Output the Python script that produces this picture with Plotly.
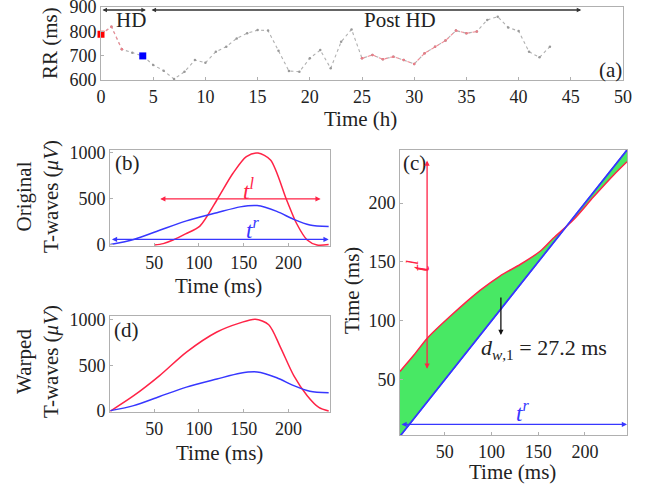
import plotly.graph_objects as go

# ---------------- data ----------------
# Panel (a): RR interval over time
rr_time_h = list(range(0, 44))
rr_ms = [788, 819, 726, 712, 699, 662, 638, 604, 634, 682, 671, 716, 737, 771, 792,
         805, 803, 720, 637, 634, 689, 723, 648, 757, 808, 689, 703, 685, 696, 682,
         666, 710, 737, 762, 803, 792, 799, 847, 860, 816, 801, 716, 693, 737]
red_segments = [(0, 2), (25, 36)]   # index ranges drawn in red
hd_marker_idx = 0                    # red square
post_marker_idx = 4                  # blue square
hd_span = [0, 4.3]
post_hd_span = [4.7, 46]

# Panel (b): original T-waves
tl_orig_t = [50, 60, 71, 85, 101, 120, 138, 153, 166, 180, 198, 209, 221, 232, 245]
tl_orig_v = [0, 15, 54, 120, 205, 489, 779, 960, 1000, 924, 489, 236, 54, 0, 5]
tr_t = [1, 27, 56, 86, 120, 146, 165, 187, 206, 224, 245]
tr_v = [5, 60, 160, 262, 350, 414, 428, 365, 278, 217, 200]
tl_interval = [55, 236]
tr_interval = [1, 245]

# Panel (d): warped T-waves
tl_warp_t = [1, 27, 56, 86, 120, 146, 163, 178, 191, 206, 221, 234, 245]
tl_warp_v = [0, 168, 388, 645, 865, 965, 1005, 945, 700, 388, 168, 40, 0]

# Panel (c): warping path
path_x = [2, 16, 31, 56, 88, 109, 131, 152, 166, 188, 209, 231, 245]
path_y = [57, 70, 85, 104, 126, 138, 148, 159, 170, 186, 205, 224, 235]
diag = [2, 245]
dw_label = "<i>d</i><sub><i>w</i>,1</sub> = 27.2 ms"

# ---------------- style ----------------
W, H = 654, 488
FONT = "Liberation Serif, Times New Roman, serif"
RED = "rgb(255,35,70)"
BLUE = "rgb(55,55,255)"
GREEN = "rgb(72,232,100)"
AX = "#b0b0b0"


def px(x):
    return x / W


def py(y):
    return 1 - y / H


fig = go.Figure()

# Panel (a)
fig.add_trace(go.Scatter(x=rr_time_h, y=rr_ms, mode="lines+markers",
                         line=dict(color="#b0b0b0", width=1.1, dash="dot"),
                         marker=dict(size=2.5, color="#999999"),
                         xaxis="x", yaxis="y", showlegend=False))
for a, b in red_segments:
    fig.add_trace(go.Scatter(x=rr_time_h[a:b + 1], y=rr_ms[a:b + 1], mode="lines+markers",
                             line=dict(color="rgb(242,140,150)", width=1.1, dash="dot"),
                             marker=dict(size=2.5, color="rgb(235,125,135)"),
                             xaxis="x", yaxis="y", showlegend=False))
fig.add_trace(go.Scatter(x=[rr_time_h[hd_marker_idx]], y=[rr_ms[hd_marker_idx]], mode="markers",
                         marker=dict(symbol="square", size=7, color="red"), cliponaxis=False,
                         xaxis="x", yaxis="y", showlegend=False))
fig.add_trace(go.Scatter(x=[rr_time_h[post_marker_idx]], y=[rr_ms[post_marker_idx]], mode="markers",
                         marker=dict(symbol="square", size=7, color="blue"), cliponaxis=False,
                         xaxis="x", yaxis="y", showlegend=False))

SPL = dict(width=1.5, shape="spline", smoothing=0.8)

# Panel (b)
fig.add_trace(go.Scatter(x=tl_orig_t, y=tl_orig_v, mode="lines", line=dict(color=RED, **SPL),
                         xaxis="x2", yaxis="y2", showlegend=False))
fig.add_trace(go.Scatter(x=tr_t, y=tr_v, mode="lines", line=dict(color=BLUE, **SPL),
                         xaxis="x2", yaxis="y2", showlegend=False))

# Panel (d)
fig.add_trace(go.Scatter(x=tl_warp_t, y=tl_warp_v, mode="lines", line=dict(color=RED, **SPL),
                         xaxis="x4", yaxis="y4", showlegend=False))
fig.add_trace(go.Scatter(x=tr_t, y=tr_v, mode="lines", line=dict(color=BLUE, **SPL),
                         xaxis="x4", yaxis="y4", showlegend=False))

# Panel (c)
fig.add_trace(go.Scatter(x=diag, y=diag, mode="lines", line=dict(color=BLUE, width=1.5),
                         xaxis="x3", yaxis="y3", showlegend=False))
fig.add_trace(go.Scatter(x=path_x, y=path_y, mode="lines", fill="tonexty", fillcolor=GREEN,
                         line=dict(color=RED, **SPL),
                         xaxis="x3", yaxis="y3", showlegend=False))
fig.add_trace(go.Scatter(x=diag, y=diag, mode="lines", line=dict(color=BLUE, width=1.5),
                         xaxis="x3", yaxis="y3", showlegend=False))

axis_common = dict(showline=True, mirror=True, linecolor=AX, linewidth=1, showgrid=False,
                   zeroline=False, ticks="inside", ticklen=3, tickcolor=AX, automargin=False,
                   ticklabeloverflow="allow",
                   tickfont=dict(family=FONT, size=18, color="#222"))

fig.update_layout(
    width=W, height=H, margin=dict(l=0, r=0, t=0, b=0, autoexpand=False),
    paper_bgcolor="white", plot_bgcolor="white",
    xaxis=dict(domain=[px(101), px(623)], range=[0, 50], tickvals=list(range(0, 51, 5)), anchor="y", **axis_common),
    yaxis=dict(domain=[py(80), py(7)], range=[600, 900], tickvals=[600, 700, 800, 900], anchor="x", **axis_common),
    xaxis2=dict(domain=[px(110), px(330)], range=[0.5, 246.5], tickvals=[50, 100, 150, 200], anchor="y2", **axis_common),
    yaxis2=dict(domain=[py(246), py(150)], range=[-11, 1032], tickvals=[0, 500, 1000], anchor="x2", **axis_common),
    xaxis3=dict(domain=[px(400), px(627)], range=[2, 245], tickvals=[50, 100, 150, 200], anchor="y3", **axis_common),
    yaxis3=dict(domain=[py(435), py(150)], range=[3, 245], tickvals=[50, 100, 150, 200], anchor="x3", **axis_common),
    xaxis4=dict(domain=[px(110), px(330)], range=[0.5, 246.5], tickvals=[50, 100, 150, 200], anchor="y4", **axis_common),
    yaxis4=dict(domain=[py(412), py(316)], range=[-10, 1040], tickvals=[0, 500, 1000], anchor="x4", **axis_common),
)

TF = dict(family=FONT, size=21, color="#222")
anns = []


def text(xp, yp, s, angle=0, font=None):
    anns.append(dict(x=px(xp), y=py(yp), xref="paper", yref="paper", text=s, showarrow=False,
                     textangle=angle, font=font or TF, xanchor="center", yanchor="middle"))


# axis titles & labels
text(50, 43, "RR (ms)", -90)
text(360, 119, "Time (h)")
text(131, 20, "HD")
text(400, 20, "Post HD")
text(610, 70, "(a)")

text(37, 197, "Original<br>T-waves (<i>μV</i>)", -90)
text(218, 286, "Time (ms)")
text(127, 163, "(b)")
text(248, 189, "<i>t</i><sup><i>l</i></sup>", font=dict(family=FONT, size=23, color=RED))
text(253, 229, "<i>t</i><sup><i>r</i></sup>", font=dict(family=FONT, size=23, color=BLUE))

text(37, 362, "Warped<br>T-waves (<i>μV</i>)", -90)
text(219, 453, "Time (ms)")
text(126, 330, "(d)")

text(352, 290, "Time (ms)", -90)
text(512, 472, "Time (ms)")
text(414, 163, "(c)")
text(418, 266, "<i>t</i><sup><i>l</i></sup>", -90, font=dict(family=FONT, size=25, color=RED))
text(522, 411, "<i>t</i><sup><i>r</i></sup>", font=dict(family=FONT, size=23, color=BLUE))
text(544, 349, dw_label, font=dict(family=FONT, size=22, color="#222"))


def arrow(xa, ya, x0, y0, x1, y1, color, side="end+start", width=1.3, size=0.8):
    anns.append(dict(x=x1, y=y1, ax=x0, ay=y0, xref=xa, yref=ya, axref=xa, ayref=ya,
                     text="", showarrow=True, arrowhead=2, arrowside=side, arrowsize=size,
                     arrowwidth=width, arrowcolor=color, standoff=0, startstandoff=0))


hd_y = 888
arrow("x", "y", hd_span[0], hd_y, hd_span[1], hd_y, "#333", width=1.5, size=0.6)
arrow("x", "y", post_hd_span[0], hd_y, post_hd_span[1], hd_y, "#333", width=1.5, size=0.6)
arrow("x2", "y2", tl_interval[0], 500, tl_interval[1], 500, RED)
arrow("x2", "y2", tr_interval[0], 60, tr_interval[1], 60, BLUE)
arrow("x3", "y3", 31, 58, 31, 236, RED)
arrow("x3", "y3", diag[0], 12, diag[1], 12, BLUE)
arrow("x3", "y3", 110, 121, 110, 88, "#111", side="end")

fig.update_layout(annotations=anns)
fig.write_html("out.html", config={"displayModeBar": False},
               post_script="document.body.style.margin='0';document.body.style.overflow='hidden';")
